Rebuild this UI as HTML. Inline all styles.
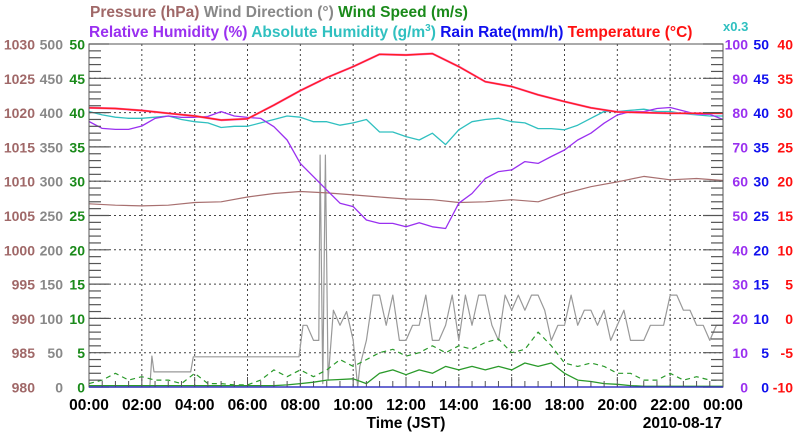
<!DOCTYPE html>
<html><head><meta charset="utf-8">
<style>
html,body{margin:0;padding:0;background:#fff;}
svg{display:block;font-family:"Liberation Sans",sans-serif;font-weight:bold;}
</style></head>
<body>
<svg id="chart" width="800" height="434" viewBox="0 0 800 434" xmlns="http://www.w3.org/2000/svg">
<g id="grid"></g>
<g id="series"></g>
<g id="axes"></g>
</svg>
<script>
// ---- data ----
const hours = [0,1,2,3,4,5,6,7,8,9,10,11,12,13,14,15,16,17,18,19,20,21,22,23,24];
const temperature = [30.7,30.6,30.3,29.9,29.5,28.9,29.1,31.1,33.2,35.1,36.7,38.5,38.4,38.6,36.7,34.5,33.8,32.6,31.6,30.7,30.1,30.0,29.9,29.9,29.9];
const pressure = [1006.7,1006.5,1006.4,1006.5,1006.9,1007.0,1007.7,1008.2,1008.5,1008.3,1008.0,1007.7,1007.4,1007.3,1006.9,1007.0,1007.3,1007.0,1008.2,1009.2,1009.9,1010.7,1010.2,1010.4,1010.1];
const halfHours = [0,0.5,1,1.5,2,2.5,3,3.5,4,4.5,5,5.5,6,6.5,7,7.5,8,8.5,9,9.5,10,10.5,11,11.5,12,12.5,13,13.5,14,14.5,15,15.5,16,16.5,17,17.5,18,18.5,19,19.5,20,20.5,21,21.5,22,22.5,23,23.5,24];
const relHumidity = [77.4,75.4,75.1,75.1,76.1,78.3,79,78.6,78.6,78.9,80.3,79,78.6,78.3,75.9,72.0,65.2,61.3,57.4,53.6,52.6,48.7,47.7,47.7,46.7,47.9,46.7,46.2,53.6,56.4,60.8,62.8,63.3,65.7,65.2,67.2,69.1,72.0,74.0,76.9,79.3,80.3,80.3,81.2,81.5,80.5,79.5,79.5,78];
const absHumidity = [24.1,23.8,23.6,23.5,23.5,23.6,23.7,23.4,23.2,23.1,22.7,22.8,22.8,23.1,23.4,23.7,23.6,23.2,23.2,22.9,23.1,23.4,22.3,22.3,21.9,21.6,22.2,21.2,22.5,23.2,23.4,23.5,23.2,23.1,22.6,22.6,22.5,22.9,23.5,24.1,24.1,24.2,24.3,24.1,24.1,23.9,23.8,23.7,23.7];
const gustSpeed = [0.5,1,2,1,1.5,1,1,0.5,2,0.5,0.5,0.3,0.3,1,2.5,1.5,2.5,1.5,2.5,4,3,4,5,5.5,4.5,5,6,5,6,5.5,6.5,7,5,5.5,8,6,3.5,3,3.5,3,2,2,1,1,2,1,1.5,1,1];
const avgSpeed = [0.2,0.2,0.2,0.2,0.2,0.2,0.2,0.2,0.2,0.2,0.2,0.2,0.2,0.2,0.2,0.3,0.5,0.7,1,1.1,1.2,0.5,2,2.5,1.8,2.5,2,3,2.5,3,2.5,3,2.5,3.5,3,3.5,2,1,0.8,0.5,0.4,0.2,0.1,0.1,0.1,0.1,0.1,0.1,0.1];
const rainRate = [0,0,0,0,0,0,0,0,0,0,0,0,0,0,0,0,0,0,0,0,0,0,0,0,0];
const windTimes = [0,2.3,2.38,2.46,3.85,3.95,7.95,8.1,8.25,8.5,8.7,8.75,8.85,8.95,9.05,9.25,9.5,9.75,10,10.17,10.25,10.5,10.75,11,11.25,11.5,11.75,12,12.25,12.5,12.75,13,13.25,13.5,13.75,14,14.25,14.5,14.75,15,15.25,15.5,15.75,16,16.25,16.5,16.75,17,17.25,17.5,17.75,18,18.25,18.5,18.75,19,19.25,19.5,19.75,20,20.25,20.5,20.75,21,21.25,21.5,21.75,22,22.25,22.5,22.75,23,23.25,23.5,23.75,24];
const windDir = [0,0,45,22,22,44,44,90,90,68,68,338,5,338,10,112,90,110,68,0,30,68,134,134,90,134,68,68,90,90,134,68,68,90,134,68,134,90,134,134,90,68,134,112,134,112,134,134,112,68,90,90,134,90,112,112,90,112,68,90,112,68,68,68,90,90,90,134,134,112,112,90,90,68,90,90];
const xTickLabels = ["00:00","02:00","04:00","06:00","08:00","10:00","12:00","14:00","16:00","18:00","20:00","22:00","00:00"];
const pressureTicks = ["980","985","990","995","1000","1005","1010","1015","1020","1025","1030"];
const dirTicks = ["0","50","100","150","200","250","300","350","400","450","500"];
const speedTicks = ["0","5","10","15","20","25","30","35","40","45","50"];
const rhTicks = ["0","10","20","30","40","50","60","70","80","90","100"];
const rainTicks = ["0","5","10","15","20","25","30","35","40","45","50"];
const tempTicks = ["-10","-5","0","5","10","15","20","25","30","35","40"];

// ---- geometry ----
const X0=89, X1=723, Y0=387, Y1=44;
const NS="http://www.w3.org/2000/svg";
const xs = h => X0 + (X1-X0)*h/24;
const yNorm = v => Y0 - (Y0-Y1)*v/50;
const yTemp = t => yNorm(t+10);
const yPres = p => yNorm(p-980);
const yRH = r => yNorm(r/2);
const yAH = a => yRH(a/0.3);
const ySpeed = s => yNorm(s);
const yDir = d => yNorm(d/10);
const yRain = r => yNorm(r);

function mk(tag, attrs, parent){
  const e=document.createElementNS(NS,tag);
  for(const k in attrs) e.setAttribute(k,attrs[k]);
  parent.appendChild(e); return e;
}
const grid=document.getElementById('grid'), series=document.getElementById('series'), axes=document.getElementById('axes');

for(let i=1;i<12;i++){
  const l=mk('line',{x1:xs(i*2),x2:xs(i*2),y1:Y1,y2:Y0,stroke:'#444','stroke-width':1,'stroke-dasharray':'2,3'},grid);
  
  
}
for(let i=1;i<10;i++){
  const y=yNorm(i*5);
  const l=mk('line',{x1:X0,x2:X1,y1:y,y2:y,stroke:'#444','stroke-width':1,'stroke-dasharray':'2,3'},grid);
  
  
}

function poly(xsArr, ysArr, color, w, name, dash){
  const pts=xsArr.map((t,i)=>xs(t).toFixed(1)+','+ysArr[i].toFixed(1)).join(' ');
  const p=mk('polyline',{points:pts,fill:'none',stroke:color,'stroke-width':w,'stroke-linejoin':'round'},series);
  if(dash) p.setAttribute('stroke-dasharray',dash);
  
  
}
poly(windTimes, windDir.map(yDir), '#999', 1.2, 'wind-direction-line');
poly(halfHours, gustSpeed.map(ySpeed), '#2a9a2a', 1.2, 'wind-gust-line', '5,4');
poly(halfHours, avgSpeed.map(ySpeed), '#2a9a2a', 1.3, 'wind-speed-line');
poly(hours, rainRate.map(yRain), '#3030c0', 1.3, 'rain-rate-line');
poly(hours, pressure.map(yPres), '#a87070', 1.2, 'pressure-line');
poly(halfHours, absHumidity.map(yAH), '#30c0c0', 1.3, 'absolute-humidity-line');
poly(halfHours, relHumidity.map(yRH), '#9a30f0', 1.3, 'relative-humidity-line');
poly(hours, temperature.map(yTemp), '#ff66cc', 2.2, 'temperature-line-2');
poly(hours, temperature.map(yTemp), '#ff2020', 1.4, 'temperature-line');

const f=mk('rect',{x:X0,y:Y1,width:X1-X0,height:Y0-Y1,fill:'none',stroke:'#555','stroke-width':1},axes);


for(let i=0;i<=50;i++){
  const y=yNorm(i), major=i%5===0, len=major?20:12;
  const a=mk('line',{x1:X0,x2:X0+len,y1:y,y2:y,stroke:'#555','stroke-width':1.2},axes);
  
  
  const b=mk('line',{x1:X1-len,x2:X1,y1:y,y2:y,stroke:'#555','stroke-width':1.2},axes);
  
  
}
for(let i=0;i<=48;i++){
  const x=xs(i/2), len=i%4===0?10:6;
  const t=mk('line',{x1:x,x2:x,y1:Y0,y2:Y0-len,stroke:'#555','stroke-width':1},axes);
  
  
}
mk('line',{x1:X0,x2:X1,y1:Y0,y2:Y0,stroke:'#3030c0','stroke-width':1.3},axes);

function txt(s,x,y,color,anchor,size,name){
  const t=mk('text',{x:x,y:y,fill:color,'text-anchor':anchor,'font-size':size},axes);
  t.textContent=s;
  
  
}
for(let i=0;i<=10;i++){
  const y=yNorm(i*5)+5.5;
  txt(pressureTicks[i],35,y,'#a06868','end',14,'pressure-tick-label');
  txt(dirTicks[i],63,y,'#888','end',14,'wind-direction-tick-label');
  txt(speedTicks[i],85,y,'#1a8a1a','end',14,'wind-speed-tick-label');
  txt(rhTicks[i],748,y,'#9a30f0','end',14,'humidity-tick-label');
  txt(rainTicks[i],769,y,'#1010ee','end',14,'rain-tick-label');
  txt(tempTicks[i],793,y,'#ff1010','end',14,'temperature-tick-label');
}
for(let i=0;i<=12;i++) txt(xTickLabels[i],xs(i*2),410,'#000','middle',15.5,'x-tick-label');
txt('Time (JST)',406,428,'#000','middle',15.5,'x-axis-title');
txt('2010-08-17',722,428,'#000','end',15.5,'date-label');
txt('x0.3',723,31,'#30c0c0','start',13,'abs-humidity-scale-note');

const r1=mk('text',{x:90,y:17,'font-size':15.5},axes);


[['Pressure (hPa) ','#a06868','legend-pressure'],['Wind Direction (°) ','#888','legend-wind-direction'],['Wind Speed (m/s)','#1a8a1a','legend-wind-speed']].forEach(p=>{
  const s=mk('tspan',{fill:p[1]},r1); s.textContent=p[0];
  
  
});
const r2=mk('text',{x:89,y:37,'font-size':15.5},axes);


[['Relative Humidity (%) ','#9a30f0','legend-relative-humidity'],['Absolute Humidity (g/m','#30c0c0','legend-absolute-humidity']].forEach(p=>{
  const s=mk('tspan',{fill:p[1]},r2); s.textContent=p[0];
  
  
});
const sup=mk('tspan',{fill:'#30c0c0','font-size':10,dy:-6},r2); sup.textContent='3';


const cl=mk('tspan',{fill:'#30c0c0',dy:6},r2); cl.textContent=') ';


const rr=mk('tspan',{fill:'#1010ee'},r2); rr.textContent='Rain Rate(mm/h) ';


const tt=mk('tspan',{fill:'#ff1010'},r2); tt.textContent='Temperature (°C)';


</script>
</body></html>
